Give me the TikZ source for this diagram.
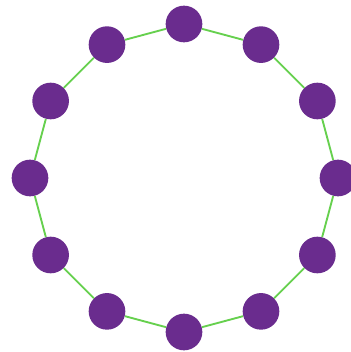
\documentclass[tikz,border=0pt]{standalone}
\usepackage{xcolor}
\usepackage{tikz}
\usetikzlibrary{calc}

\definecolor{vertexpurple}{HTML}{6A2C8E}
\definecolor{edgegreen}{HTML}{66D04E}

\begin{document}
\begin{tikzpicture}[
  vertex/.style = {
    circle, fill=vertexpurple, draw=none,
    minimum size=1.10cm, inner sep=0pt
  },
  edge/.style = {draw=edgegreen, line width=1.6pt}
]

\useasboundingbox (0,0) rectangle (10.5,10.56);

%% ---- 12 vertices on a circle ----
\coordinate (c) at (5.52,5.22);
\foreach \i in {0,...,11} {
  \node[vertex] (v\i) at ($(c)+({90-30*\i}:4.62)$) {};
}

%% ---- cycle edges ----
\foreach \i [evaluate=\i as \j using {int(mod(\i+1,12))}] in {0,...,11} {
  \draw[edge] (v\i) -- (v\j);
}

\end{tikzpicture}
\end{document}
